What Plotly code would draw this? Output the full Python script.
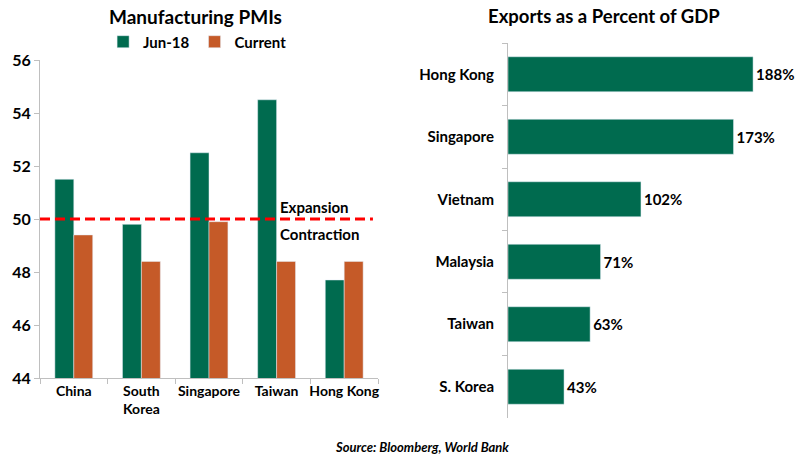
import plotly.graph_objects as go

# Left chart data
pmi_countries = ["China", "South<br>Korea", "Singapore", "Taiwan", "Hong Kong"]
pmi_jun18 = [51.5, 49.8, 52.5, 54.5, 47.7]
pmi_current = [49.4, 48.4, 49.9, 48.4, 48.4]
threshold = 50

# Right chart data
exp_countries = ["Hong Kong", "Singapore", "Vietnam", "Malaysia", "Taiwan", "S. Korea"]
exp_pct = [188, 173, 102, 71, 63, 43]

GREEN = "#006B4F"
ORANGE = "#C55A28"
AXIS = "#BFBFBF"
FONT = "Lato"

fig = go.Figure()
fig.add_trace(go.Bar(x=pmi_countries, y=pmi_jun18, name="<b>Jun-18</b>", marker_color=GREEN,
                     xaxis="x", yaxis="y"))
fig.add_trace(go.Bar(x=pmi_countries, y=pmi_current, name="<b>Current</b>", marker_color=ORANGE,
                     xaxis="x", yaxis="y"))
fig.add_trace(go.Bar(y=exp_countries, x=exp_pct, orientation="h", marker_color=GREEN,
                     text=[f"<b>{v}%</b>" for v in exp_pct], textposition="outside",
                     textfont=dict(size=15, color="black", family=FONT), constraintext="none",
                     cliponaxis=False, showlegend=False, xaxis="x2", yaxis="y2"))

fig.update_layout(
    width=800, height=461,
    margin=dict(l=0, r=0, t=0, b=0, autoexpand=False),
    paper_bgcolor="white", plot_bgcolor="white",
    font=dict(family=FONT, color="black"),
    barmode="group", bargap=0.44, bargroupgap=0,
    showlegend=True,
    legend=dict(orientation="h", x=0.247, xanchor="center", y=0.909, yanchor="middle",
                font=dict(size=15, family=FONT), itemwidth=30, traceorder="normal"),
    xaxis=dict(domain=[0.05, 0.4725], showline=True, linecolor=AXIS, ticks="outside",
               tickson="boundaries", tickcolor=AXIS, ticklen=5, showgrid=False, tickangle=0,
               automargin=False,
               tickfont=dict(size=14, family=FONT), tickprefix="<b>", ticksuffix="</b>"),
    yaxis=dict(domain=[0.18, 0.8698], range=[44, 56], dtick=2, showline=True, linecolor=AXIS,
               ticks="outside", tickcolor=AXIS, ticklen=5, showgrid=False, zeroline=False,
               automargin=False,
               tickfont=dict(size=16, family=FONT), tickprefix="<b>", ticksuffix="</b>"),
    xaxis2=dict(domain=[0.635, 1.0], range=[0, 224], visible=False, anchor="y2", automargin=False),
    yaxis2=dict(domain=[0.0933, 0.9067], autorange="reversed", anchor="x2", showline=True,
                linecolor=AXIS, ticks="outside", tickson="boundaries", tickcolor=AXIS,
                ticklen=5, showgrid=False, tickfont=dict(size=15, family=FONT), automargin=False,
                tickprefix="<b>", ticksuffix="</b>", ticklabelstandoff=10),
)

fig.add_shape(type="line", xref="x domain", yref="y", x0=0, x1=0.985, y0=threshold, y1=threshold,
              line=dict(color="#FF0000", width=3, dash="10px,5px"))

fig.add_annotation(xref="paper", yref="y", x=278 / 800, y=threshold, yshift=12, xanchor="left",
                   text="<b>Expansion</b>", showarrow=False, font=dict(size=15, family=FONT))
fig.add_annotation(xref="paper", yref="y", x=278 / 800, y=threshold, yshift=-15, xanchor="left",
                   text="<b>Contraction</b>", showarrow=False, font=dict(size=15, family=FONT))

fig.add_annotation(xref="paper", yref="paper", x=0.244, y=1 - 16 / 461, text="<b>Manufacturing PMIs</b>",
                   showarrow=False, font=dict(size=19, family=FONT), xanchor="center", yanchor="middle")
fig.add_annotation(xref="paper", yref="paper", x=0.755, y=1 - 16 / 461, text="<b>Exports as a Percent of GDP</b>",
                   showarrow=False, font=dict(size=18.5, family=FONT), xanchor="center", yanchor="middle")
fig.add_annotation(xref="paper", yref="paper", x=0.528, y=1 - 447 / 461, text="<b><i>Source: Bloomberg, World Bank</i></b>",
                   showarrow=False, font=dict(size=13, family=FONT), xanchor="center", yanchor="middle")

fig.write_html("out.html")
